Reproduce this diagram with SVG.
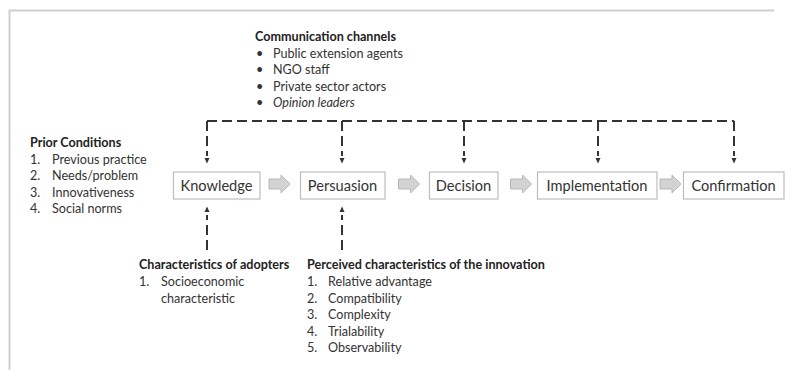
<svg xmlns="http://www.w3.org/2000/svg" width="794" height="370" viewBox="0 0 794 370">
<style>
.t{font-family:Lato,"Liberation Sans",sans-serif;font-size:12.6px;fill:#333}
.b{font-weight:bold;fill:#222}
.i{font-style:italic}
.box{fill:#fff;stroke:#bdbdbd;stroke-width:1.2}
.bt{font-family:Lato,"Liberation Sans",sans-serif;font-size:14.6px;fill:#333;text-anchor:middle}
.dash{fill:none;stroke:#333;stroke-width:2;stroke-dasharray:10 5}
.blk{fill:#d3d3d3;stroke:#b8b8b8;stroke-width:1}
.tip{fill:#333}
</style>
<defs>
<path id="tipDown" d="M-2.5,-4 L2.5,-4 L0,1.5 Z"/>
<path id="tipUp" d="M-2.5,4 L2.5,4 L0,-1.5 Z"/>
<path id="blockArrow" d="M0,-5 H12 V-9 L21,0 L12,9 V5 H0 Z"/>
</defs>
<rect width="794" height="370" fill="#fff"/>
<path d="M9.5,370 V10.5 H774" fill="none" stroke="#cfcfcf" stroke-width="2"/>

<g id="communication-channels">
<text class="t b" x="255" y="41">Communication channels</text>
<text class="t" x="256" y="57.5">•</text><text class="t" x="273" y="57.5">Public extension agents</text>
<text class="t" x="256" y="74">•</text><text class="t" x="273" y="74">NGO staff</text>
<text class="t" x="256" y="90.5">•</text><text class="t" x="273" y="90.5">Private sector actors</text>
<text class="t" x="256" y="107">•</text><text class="t i" x="273" y="107">Opinion leaders</text>
</g>

<g id="prior-conditions">
<text class="t b" x="30" y="147">Prior Conditions</text>
<text class="t" x="30" y="163.5">1.</text><text class="t" x="52" y="163.5">Previous practice</text>
<text class="t" x="30" y="180">2.</text><text class="t" x="52" y="180">Needs/problem</text>
<text class="t" x="30" y="196.5">3.</text><text class="t" x="52" y="196.5">Innovativeness</text>
<text class="t" x="30" y="213">4.</text><text class="t" x="52" y="213">Social norms</text>
</g>

<g id="knowledge"><rect class="box" x="173.5" y="172" width="86.5" height="27"/><text class="bt" x="216.5" y="190.5">Knowledge</text></g>
<g id="persuasion"><rect class="box" x="300.5" y="172" width="84.5" height="27"/><text class="bt" x="342.5" y="190.5">Persuasion</text></g>
<g id="decision"><rect class="box" x="429.5" y="172" width="68.5" height="27"/><text class="bt" x="463.5" y="190.5">Decision</text></g>
<g id="implementation"><rect class="box" x="537.5" y="172" width="119.5" height="27"/><text class="bt" x="597" y="190.5">Implementation</text></g>
<g id="confirmation"><rect class="box" x="683.5" y="172" width="100.5" height="27"/><text class="bt" x="733.5" y="190.5">Confirmation</text></g>

<g id="characteristics-of-adopters">
<text class="t b" x="139" y="269">Characteristics of adopters</text>
<text class="t" x="139" y="286">1.</text><text class="t" x="161" y="286">Socioeconomic</text>
<text class="t" x="161" y="302.5">characteristic</text>
</g>

<g id="perceived-characteristics">
<text class="t b" x="307" y="269">Perceived characteristics of the innovation</text>
<text class="t" x="307" y="286">1.</text><text class="t" x="328" y="286">Relative advantage</text>
<text class="t" x="307" y="302.5">2.</text><text class="t" x="328" y="302.5">Compatibility</text>
<text class="t" x="307" y="319">3.</text><text class="t" x="328" y="319">Complexity</text>
<text class="t" x="307" y="335.5">4.</text><text class="t" x="328" y="335.5">Trialability</text>
<text class="t" x="307" y="352">5.</text><text class="t" x="328" y="352">Observability</text>
</g>

<g id="connectors">
<use href="#blockArrow" class="blk" x="269" y="184"/>
<use href="#blockArrow" class="blk" x="398.5" y="184"/>
<use href="#blockArrow" class="blk" x="510.5" y="184"/>
<use href="#blockArrow" class="blk" x="660" y="184"/>
<path class="dash" d="M207,121 H734"/>
<path class="dash" d="M207,121 V156"/>
<path class="dash" d="M342,121 V156"/>
<path class="dash" d="M464,121 V156"/>
<path class="dash" d="M598,121 V156"/>
<path class="dash" d="M734,121 V156"/>
<use href="#tipDown" class="tip" x="207" y="162"/>
<use href="#tipDown" class="tip" x="342" y="162"/>
<use href="#tipDown" class="tip" x="464" y="162"/>
<use href="#tipDown" class="tip" x="598" y="162"/>
<use href="#tipDown" class="tip" x="734" y="162"/>
<path class="dash" d="M207,250 V215"/>
<path class="dash" d="M342,250 V215"/>
<use href="#tipUp" class="tip" x="207" y="208"/>
<use href="#tipUp" class="tip" x="342" y="208"/>
</g>
</svg>
